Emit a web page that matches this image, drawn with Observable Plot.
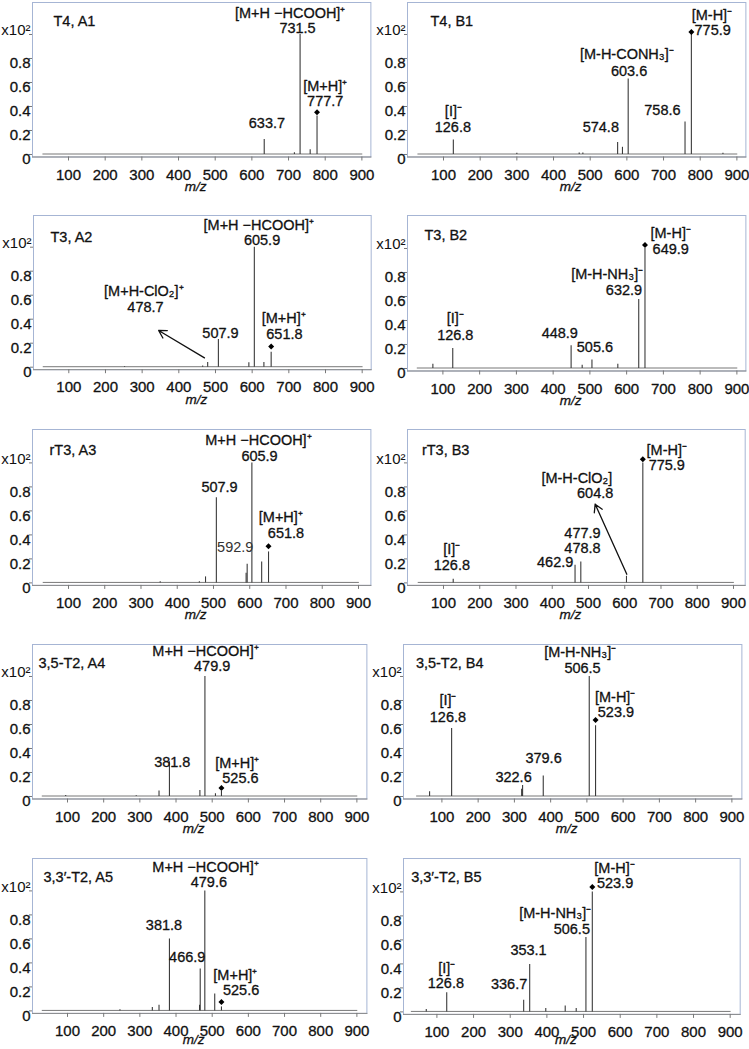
<!DOCTYPE html>
<html><head><meta charset="utf-8">
<script src="https://cdn.jsdelivr.net/npm/d3@7"></script>
<script src="https://cdn.jsdelivr.net/npm/@observablehq/plot@0.6"></script>
<style>
body{margin:0;background:#fff;}
#wrap{position:relative;width:749px;height:1049px;overflow:hidden;background:#fff;}
#wrap svg{position:absolute;}
</style></head><body><div id="wrap"></div>
<script>
// ---------- DATA ----------
const panelOrder = ["A1","B1","A2","B2","A3","B3","A4","B4","A5","B5"];
const titles = {A1:"T4, A1", B1:"T4, B1", A2:"T3, A2", B2:"T3, B2", A3:"rT3, A3", B3:"rT3, B3",
  A4:"3,5-T2, A4", B4:"3,5-T2, B4", A5:"3,3′-T2, A5", B5:"3,3′-T2, B5"};
const xTicks = [100,200,300,400,500,600,700,800,900];
const yTicks = [0,0.2,0.4,0.6,0.8];
const yTopTick = 1.0;
const baselineSpan = [30, 900];

// peaks: [m/z, relative intensity (x10^2)]
const peaksA1 = [[633.7,0.125],[716,0.015],[731.5,1.0],[759,0.04],[777.7,0.32]];
const peaksB1 = [[126.8,0.12],[300,0.01],[470,0.012],[480,0.012],[574.8,0.10],[588,0.06],[603.6,0.63],[758.6,0.27],[775.9,1.0],[862,0.01]];
const peaksA2 = [[252,0.006],[465,0.01],[478.7,0.04],[507.9,0.23],[591,0.036],[605.9,1.0],[632,0.04],[651.8,0.125]];
const peaksB2 = [[72.7,0.036],[126.8,0.167],[448.9,0.19],[479,0.028],[505.6,0.07],[576,0.036],[632.9,0.575],[649.9,1.0]];
const peaksA3 = [[353,0.01],[461,0.01],[478,0.05],[507.9,0.71],[590,0.08],[592.9,0.155],[605.9,1.0],[632.9,0.175],[651.8,0.258]];
const peaksB3 = [[126.8,0.03],[462.9,0.147],[478.8,0.175],[604.8,0.055],[649.9,1.0]];
const peaksA4 = [[95,0.008],[290,0.006],[353,0.045],[381.8,0.29],[466,0.05],[479.9,1.0],[509,0.022],[525.6,0.042]];
const peaksB4 = [[66,0.04],[126.8,0.567],[320,0.06],[322.6,0.092],[379.6,0.17],[506.5,1.0],[523.9,0.59]];
const peaksA5 = [[245,0.01],[334.5,0.028],[353,0.047],[381.8,0.6],[465,0.047],[466.9,0.35],[479.6,1.0],[507,0.14],[525.6,0.033]];
const peaksB5 = [[71,0.02],[126.8,0.16],[336.7,0.097],[353.1,0.394],[397,0.028],[450,0.05],[480,0.028],[506.5,0.62],[523.9,1.0]];

// molecular-ion markers (diamonds): [m/z, height]
const markers = {A1:[777.7,0.353], B1:[775.9,1.02], A2:[651.8,0.172], B2:[649.9,1.03], A3:[651.8,0.305],
  B3:[649.9,1.03], A4:[525.6,0.07], B4:[523.9,0.637], A5:[525.6,0.075], B5:[523.9,1.04]};

// arrows: [m/z from, y from, m/z to, y to]
const arrows = {A2:[[470,0.078,345,0.306]], B3:[[605.7,0.072,518.4,0.656]]};

// annotation lines: [text, m/z, y]
const labelsA1 = [["[M+H −HCOOH]⁺",704.5,1.175],["731.5",724.5,1.05],["633.7",641,0.258],["[M+H]⁺",800,0.565],["777.7",800,0.445]];
const labelsB1 = [["[I]⁻",127,0.361],["126.8",125.5,0.222],["574.8",529,0.228],["[M-H-CONH₃]⁻",600,0.833],["603.6",606,0.694],["758.6",697,0.367],["[M-H]⁻",832,1.161],["775.9",834,1.033]];
const labelsA2 = [["[M+H −HCOOH]⁺",618,1.185],["605.9",627,1.055],["[M+H-ClO₂]⁺",304.5,0.633],["478.7",309,0.5],["507.9",513.6,0.283],["[M+H]⁺",686,0.403],["651.8",688,0.272]];
const labelsB2 = [["[I]⁻",133.6,0.417],["126.8",133.6,0.278],["448.9",418,0.292],["505.6",513.6,0.18],["[M-H-NH₃]⁻",547,0.785],["632.9",592.7,0.655],["[M-H]⁻",720,1.125],["649.9",720,0.99]];
const labelsA3 = [["M+H −HCOOH]⁺",624,1.189],["605.9",627,1.056],["507.9",516.6,0.8],["592.9",560,0.294],["[M+H]⁺",685.7,0.545],["651.8",700,0.415]];
const labelsB3 = [["[I]⁻",123,0.28],["126.8",123,0.15],["477.9",483.4,0.415],["478.8",483.4,0.29],["462.9",408,0.169],["[M-H-ClO₂]",467.8,0.869],["604.8",518.4,0.744],["[M-H]⁻",716,1.105],["775.9",716,0.98]];
const labelsA4 = [["M+H −HCOOH]⁺",481.6,1.21],["479.9",500,1.084],["381.8",389.7,0.288],["[M+H]⁺",569,0.278],["525.6",578,0.155]];
const labelsB4 = [["[I]⁻",116.6,0.8],["126.8",116.6,0.66],["322.6",297.7,0.162],["379.6",380.5,0.321],["[M-H-NH₃]⁻",481.6,1.205],["506.5",488,1.07],["[M-H]⁻",578,0.825],["523.9",580,0.7]];
const labelsA5 = [["M+H −HCOOH]⁺",481.6,1.2],["479.6",490.8,1.067],["381.8",366.7,0.714],["466.9",431,0.45],["[M+H]⁺",564,0.3],["525.6",580,0.168]];
const labelsB5 = [["[I]⁻",127,0.361],["126.8",124.5,0.236],["336.7",297,0.231],["353.1",350,0.514],["[M-H-NH₃]⁻",422.7,0.82],["506.5",468,0.69],["[M-H]⁻",584.5,1.194],["523.9",586,1.069]];

const peaks = {A1:peaksA1,B1:peaksB1,A2:peaksA2,B2:peaksB2,A3:peaksA3,B3:peaksB3,A4:peaksA4,B4:peaksB4,A5:peaksA5,B5:peaksB5};
const labels = {A1:labelsA1,B1:labelsB1,A2:labelsA2,B2:labelsB2,A3:labelsA3,B3:labelsB3,A4:labelsA4,B4:labelsB4,A5:labelsA5,B5:labelsB5};

// ---------- LAYOUT (pixels) ----------
const geom = {
 A1:{fl:32.3, fr:370.7, ft:1.5,   x100:68.3,  x900:361.7, base:153.5,  tdx:21, tdy:18.5, mz:34},
 B1:{fl:407.3,fr:745.7, ft:1.5,   x100:443.3, x900:736.7, base:153.5,  tdx:23, tdy:19, mz:34},
 A2:{fl:33,   fr:370.7, ft:215,   x100:68.3,  x900:361.7, base:366.7,  tdx:17, tdy:22, mz:34},
 B2:{fl:407.3,fr:745.7, ft:215,   x100:442.7, x900:736.7, base:368,    tdx:17, tdy:20, mz:34},
 A3:{fl:32.3, fr:370.7, ft:429.3, x100:68.3,  x900:358.3, base:582.7,  tdx:17, tdy:20.7, mz:34},
 B3:{fl:407.3,fr:745,   ft:429.3, x100:443.3, x900:733.3, base:582.7,  tdx:14.4, tdy:20.7, mz:34},
 A4:{fl:32.3, fr:366.7, ft:644,   x100:67.3,  x900:356.7, base:796,    tdx:6, tdy:19.3, mz:34},
 B4:{fl:403.3,fr:741.7, ft:644,   x100:441.7, x900:731.7, base:796,    tdx:12.4, tdy:19.3, mz:34},
 A5:{fl:32.3, fr:366.7, ft:858.3, x100:67.3,  x900:356.7, base:1010.7, tdx:11, tdy:19, mz:30.5},
 B5:{fl:403.3,fr:740,   ft:858.3, x100:436.7, x900:730,   base:1011.7, tdx:7.7, tdy:19, mz:29.5}
};
const PX_PER_UNIT = 120;
const FONT = "'Liberation Sans', Arial, Helvetica, sans-serif";
const wrap = document.getElementById("wrap");

for (const id of panelOrder) {
  const g = geom[id];
  const k = (g.x900 - g.x100) / 800;
  const d0 = 100 - (g.x100 - g.fl) / k;
  const d1 = 900 + (g.fr - g.x900) / k;
  const mL = 32, mR = 4, mT = 2, mB = 44;
  const area = g.base + 2.5 - g.ft;
  const y0 = -2.5 / PX_PER_UNIT, y1 = (g.base - g.ft) / PX_PER_UNIT;
  const W = mL + (g.fr - g.fl) + mR, H = mT + area + mB;
  const textStyle = {fill: "#111", stroke: "#111", strokeWidth: 0.3};
  const marks = [
    Plot.frame({stroke: "#a6b5d4", strokeWidth: 1}),
    Plot.line(baselineSpan.map(m => [m, 0.004]), {x: d => d[0], y: d => d[1], stroke: "#777", strokeWidth: 1}),
    Plot.ruleX(peaks[id], {x: d => d[0], y1: 0, y2: d => d[1], stroke: "#3a3a3a", strokeWidth: 1.1}),
    Plot.frame({anchor: "bottom", stroke: "#8a8a8a"}),
    Plot.axisX(xTicks, {tickSize: 4, tickPadding: 8, fontSize: 15, stroke: "#777", label: null, textStroke: "#111", textStrokeWidth: 0.3}),
    Plot.axisY([...yTicks, yTopTick], {tickSize: 3, tickFormat: () => "", stroke: "#777", label: null}),
    Plot.axisY(yTicks, {tickSize: 0, tickPadding: 2, dy: 5, fontSize: 15, label: null, textStroke: "#111", textStrokeWidth: 0.3, tickFormat: d => d === 0 ? "0" : d.toFixed(1)}),
    Plot.axisY([yTopTick], {tickSize: 0, tickPadding: 2, dy: -4, fontSize: 15, label: null, tickFormat: () => "x10²"}),
    Plot.dot([markers[id]], {x: d => d[0], y: d => d[1], symbol: "diamond2", r: 2.7, fill: "#000", stroke: "none"}),
    Plot.text(labels[id], {x: d => d[1], y: d => d[2], text: d => d[0], fontSize: 14.5, ...textStyle,
      fill: d => d[0] === "592.9" ? "#333" : "#111", strokeWidth: d => d[0] === "592.9" ? 0 : 0.3}),
    Plot.text([titles[id]], {frameAnchor: "top-left", dx: g.tdx, dy: g.tdy, textAnchor: "start", lineAnchor: "middle", fontSize: 14.5, ...textStyle}),
    Plot.text(["m/z"], {frameAnchor: "bottom", dx: -6, dy: g.mz, fontStyle: "italic", fontSize: 13.5, ...textStyle})
  ];
  if (arrows[id]) {
    marks.push(Plot.arrow(arrows[id], {x1: d => d[0], y1: d => d[1], x2: d => d[2], y2: d => d[3], stroke: "#111", strokeWidth: 1.3, headLength: 10}));
  }
  const chart = Plot.plot({
    width: W, height: H, marginLeft: mL, marginRight: mR, marginTop: mT, marginBottom: mB,
    x: {domain: [d0, d1]}, y: {domain: [y0, y1]},
    style: {fontFamily: FONT, fontSize: "15px", background: "transparent", color: "#111", overflow: "visible"},
    marks
  });
  chart.style.left = (g.fl - mL) + "px";
  chart.style.top = (g.ft - mT) + "px";
  wrap.appendChild(chart);
}
</script>
</body></html>
